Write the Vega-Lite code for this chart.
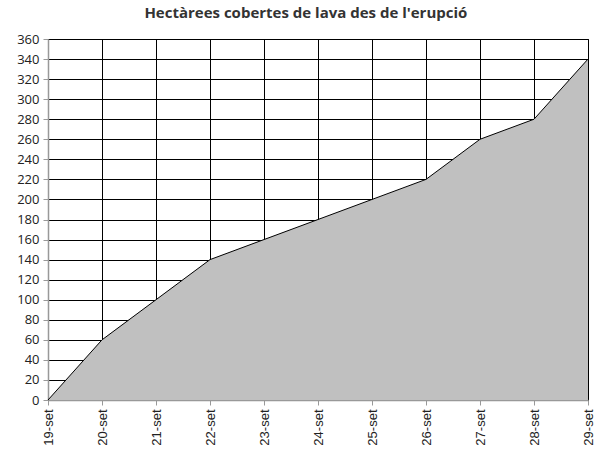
{
  "$schema": "https://vega.github.io/schema/vega-lite/v6.json",
  "width": 540,
  "height": 361,
  "autosize": "none",
  "padding": {"left": 48, "top": 39, "right": 13, "bottom": 52},
  "background": "white",
  "title": {
    "text": "Hectàrees cobertes de lava des de l'erupció",
    "font": "Open Sans",
    "fontSize": 15,
    "fontWeight": "bold",
    "color": "#333333",
    "anchor": "middle",
    "frame": "bounds",
    "offset": 12
  },
  "config": {
    "view": {"stroke": "#000000", "strokeWidth": 1}
  },
  "data": {
    "values": [
      {"dia": "19-set", "ha": 0},
      {"dia": "20-set", "ha": 60},
      {"dia": "21-set", "ha": 100},
      {"dia": "22-set", "ha": 140},
      {"dia": "23-set", "ha": 160},
      {"dia": "24-set", "ha": 180},
      {"dia": "25-set", "ha": 200},
      {"dia": "26-set", "ha": 220},
      {"dia": "27-set", "ha": 260},
      {"dia": "28-set", "ha": 280},
      {"dia": "29-set", "ha": 340}
    ]
  },
  "mark": {
    "type": "area",
    "color": "#c0c0c0",
    "opacity": 1,
    "line": {"color": "#000000", "strokeWidth": 1}
  },
  "encoding": {
    "x": {
      "field": "dia",
      "type": "ordinal",
      "sort": null,
      "scale": {"type": "point", "padding": 0},
      "axis": {
        "title": null,
        "labelAngle": -90,
        "labelFont": "Liberation Sans",
        "labelFontSize": 13,
        "labelColor": "#222222",
        "labelPadding": 4,
        "grid": true,
        "gridColor": "#000000",
        "gridWidth": 1,
        "gridOpacity": 1,
        "domainColor": "#999999",
        "domainWidth": 1.5,
        "tickColor": "#999999",
        "tickSize": 5
      }
    },
    "y": {
      "field": "ha",
      "type": "quantitative",
      "scale": {"domain": [0, 360], "nice": false},
      "axis": {
        "title": null,
        "values": [0, 20, 40, 60, 80, 100, 120, 140, 160, 180, 200, 220, 240, 260, 280, 300, 320, 340, 360],
        "labelFont": "Open Sans",
        "labelFontSize": 13,
        "labelColor": "#222222",
        "labelPadding": 4,
        "grid": true,
        "gridColor": "#000000",
        "gridWidth": 1,
        "gridOpacity": 1,
        "domainColor": "#999999",
        "domainWidth": 1.5,
        "tickColor": "#999999",
        "tickSize": 5
      }
    }
  }
}
